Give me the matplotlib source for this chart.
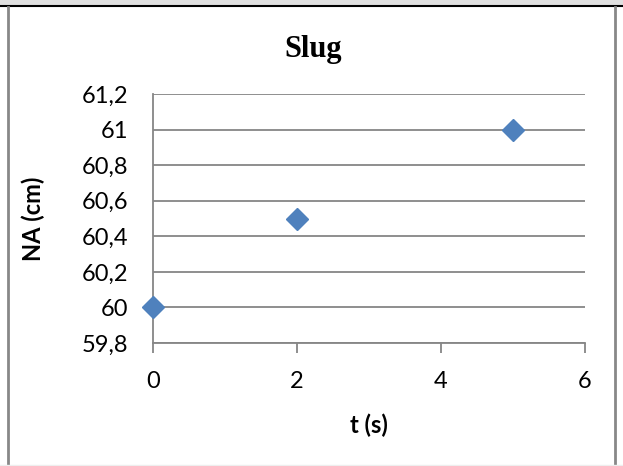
import matplotlib
matplotlib.use("Agg")
import matplotlib.pyplot as plt
from matplotlib.lines import Line2D
from matplotlib.patches import Rectangle

# measurements
t = [0, 2, 5]
na = [60, 60.5, 61]
x_ticks = [0, 2, 4, 6]
y_ticks = [59.8, 60.0, 60.2, 60.4, 60.6, 60.8, 61.0, 61.2]

W, H = 623, 466
fig = plt.figure(figsize=(W / 100, H / 100), dpi=100)
fig.patch.set_facecolor("white")

# grey strip at the top and the chart frame
fig.add_artist(Rectangle((0, 1 - 6 / H), 1, 6 / H, transform=fig.transFigure,
                         facecolor="#e0e0e0", edgecolor="none"))
fig.add_artist(Line2D([0, 1], [1 - 6 / H, 1 - 6 / H], transform=fig.transFigure,
                      color="black", lw=1.5))
for xp in (7.5, 614.5):
    fig.add_artist(Line2D([xp / W, xp / W], [0, 1 - 6.5 / H], transform=fig.transFigure,
                          color="#888888", lw=2))
fig.add_artist(Line2D([0, 1], [1.5 / H, 1.5 / H], transform=fig.transFigure,
                      color="#eeeeee", lw=1))

# plot area: x 0..6 -> px 153..585, y 59.8..61.2 -> px 343..94
x0, x1 = 153, 585
y0, y1 = 94, 343
ax = fig.add_axes([x0 / W, 1 - y1 / H, (x1 - x0) / W, (y1 - y0) / H])
ax.set_xlim(0, 6)
ax.set_ylim(59.8, 61.2)
ax.set_xticks(x_ticks)
ax.set_yticks(y_ticks)
ax.set_xticklabels([str(v) for v in x_ticks])
ax.set_yticklabels([("%g" % v).replace(".", ",") for v in y_ticks])

for side in ("top", "right"):
    ax.spines[side].set_visible(False)
for side in ("left", "bottom"):
    ax.spines[side].set_color("#868686")
    ax.spines[side].set_linewidth(1.3)
ax.yaxis.grid(True, color="#868686", lw=1.3)
ax.set_axisbelow(True)
ax.tick_params(axis="y", length=0, pad=18, labelsize=17)
ax.tick_params(axis="x", length=7, width=1.3, color="#868686", pad=13, labelsize=17)
for lab in ax.get_xticklabels() + ax.get_yticklabels():
    lab.set_fontfamily("Lato")

ax.plot(t, na, linestyle="none", marker="D", markersize=11,
        color="#4f81bd", markeredgecolor="#4f81bd", clip_on=False, zorder=5)

ax.set_xlabel("t (s)", fontfamily="Lato", fontweight="bold", fontsize=17, labelpad=16)
ax.set_ylabel("NA (cm)", fontfamily="Lato", fontweight="bold", fontsize=17, labelpad=26)
fig.text(313 / W, 1 - 50 / H, "Slug", ha="center", va="center",
         fontfamily="Liberation Serif", fontweight="bold", fontsize=22)

fig.savefig("out.png", dpi=100)
